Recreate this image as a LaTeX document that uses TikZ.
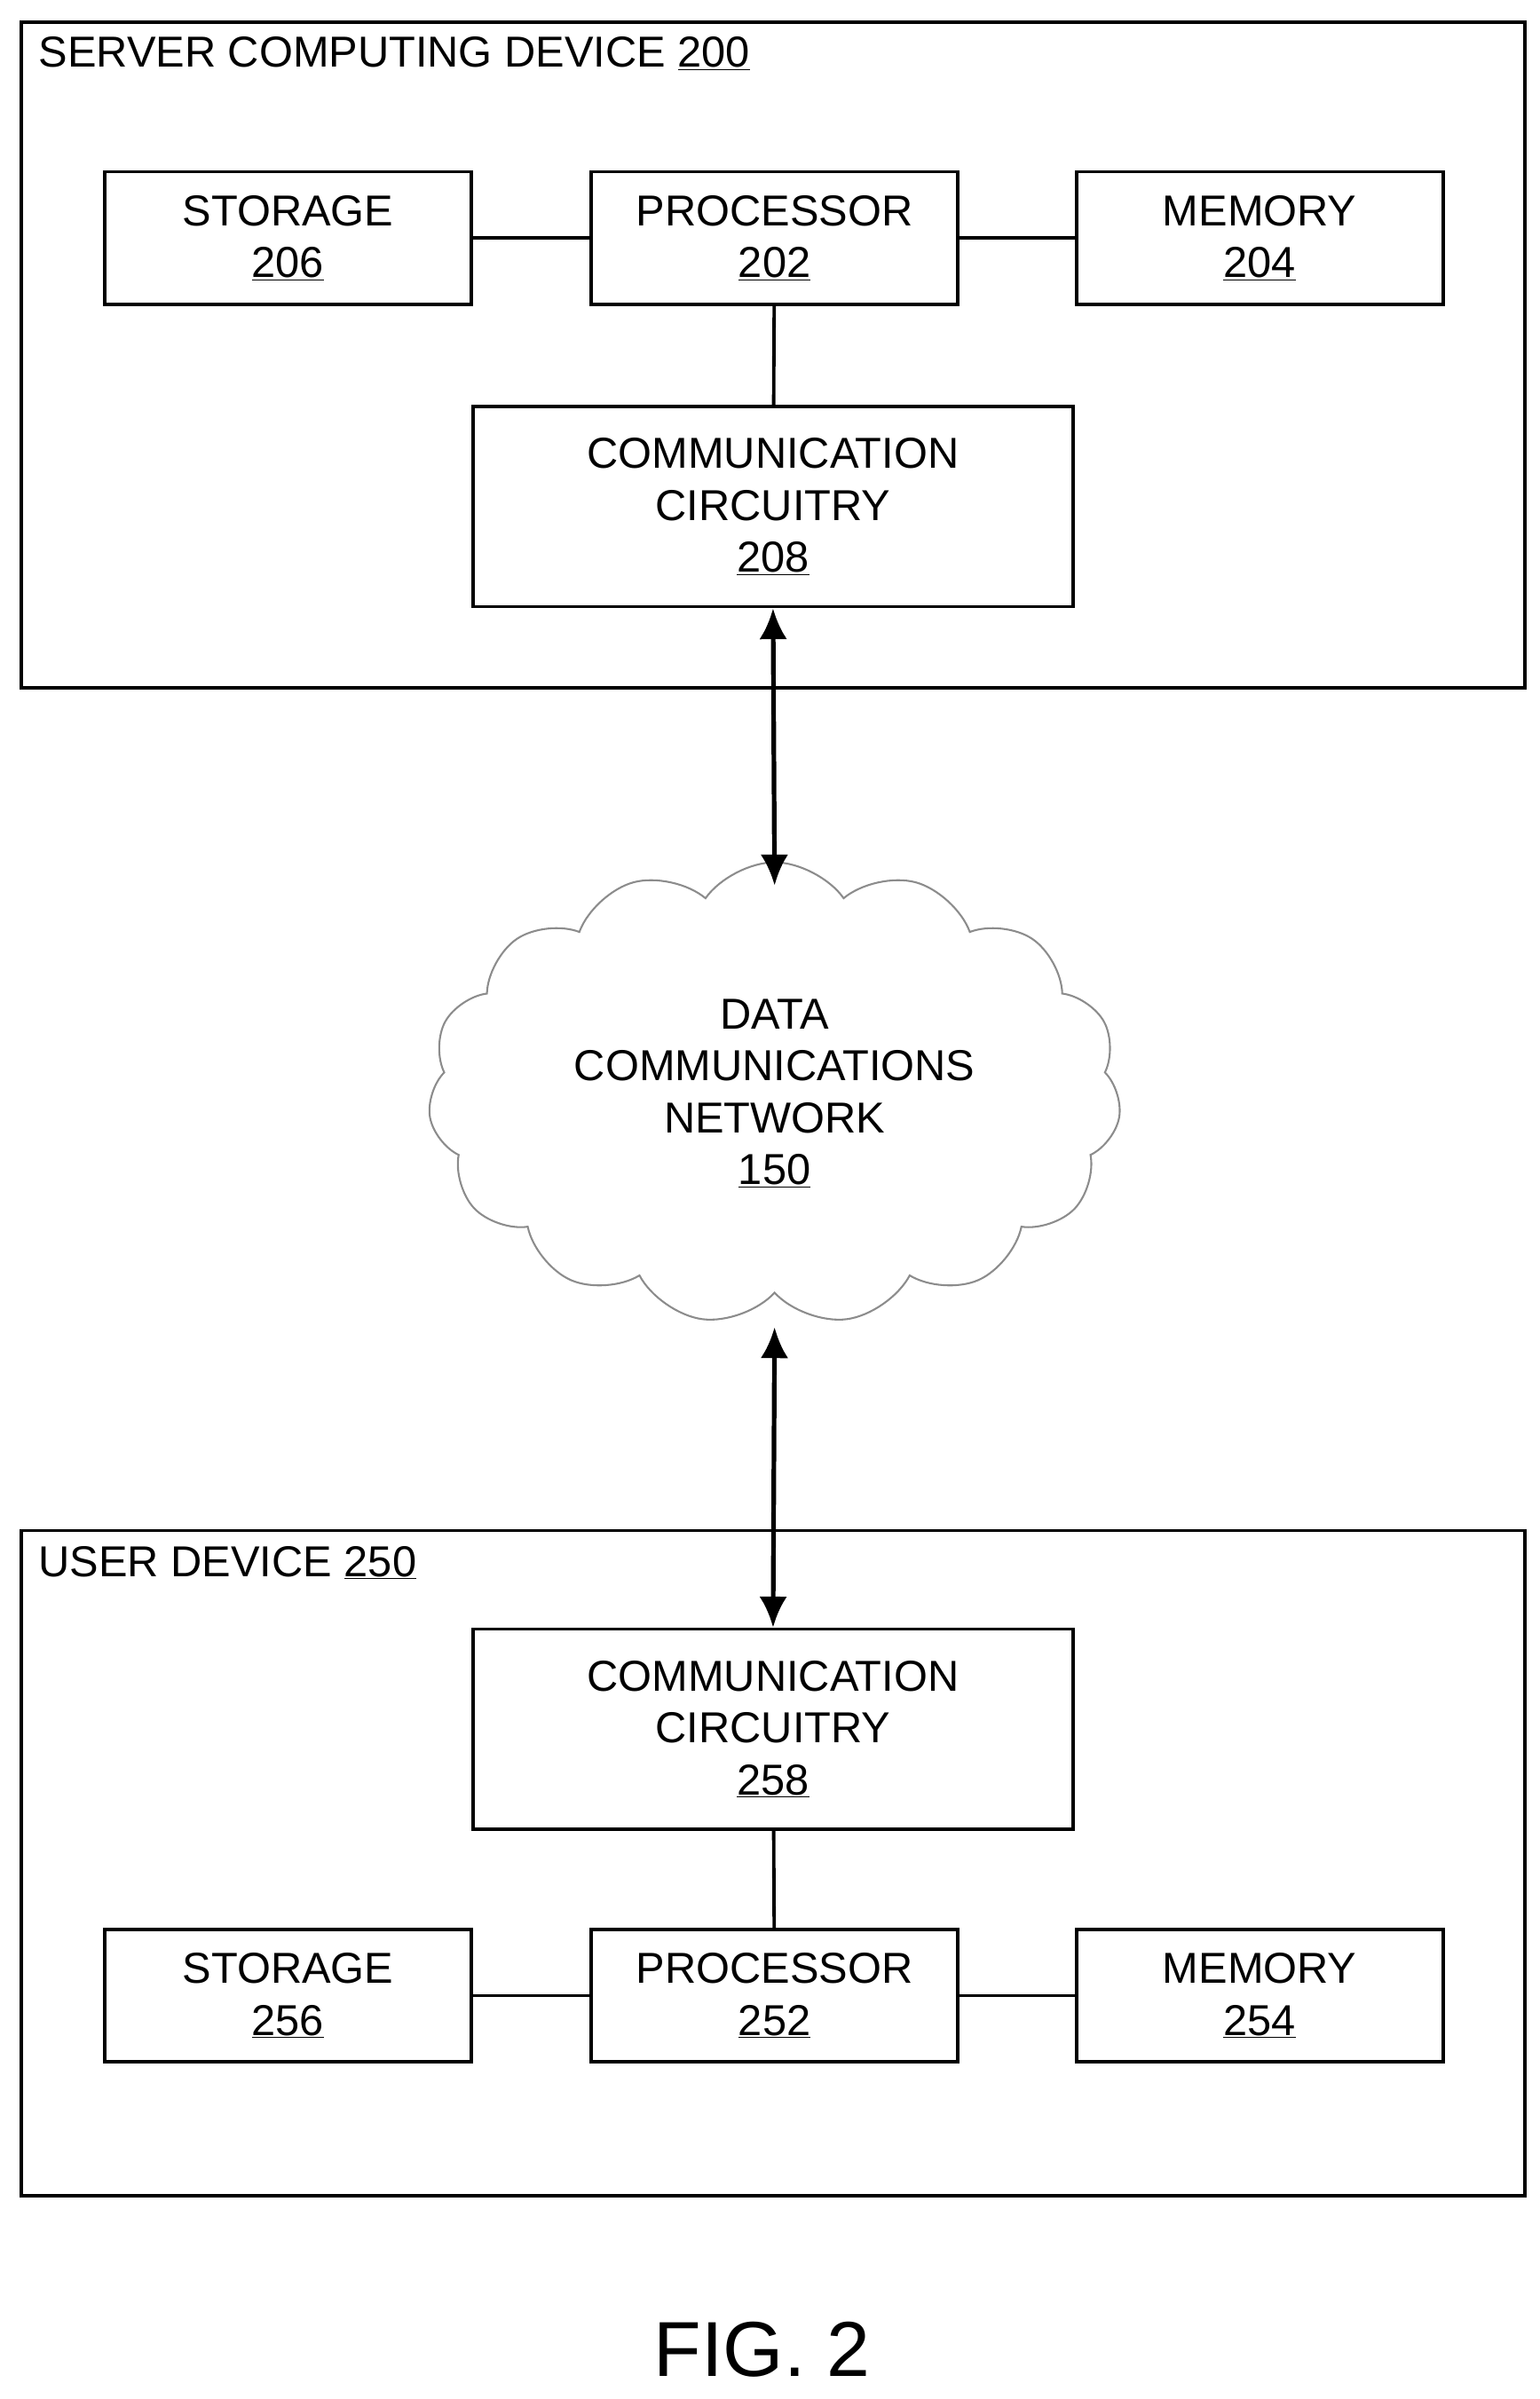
\documentclass[tikz,border=0pt]{standalone}
\usepackage{fontspec}
\setmainfont{Liberation Sans}
\usetikzlibrary{shapes.symbols,arrows.meta}
\begin{document}
\begin{tikzpicture}[x=0.5mm,y=-0.5mm,
  txt/.style={font=\fontsize{40}{48}\selectfont, align=center},
  box/.style={draw, line width=1.1mm, txt, inner sep=0},
  ln/.style={line width=1.1mm},
  arr/.style={line width=1.5mm, {Latex[length=10mm,width=9mm]}-{Latex[length=10mm,width=9mm]}}]
\useasboundingbox (0,0) rectangle (1000,1558);
% server
\node[draw, line width=1.1mm, minimum width=488mm, minimum height=216mm, inner sep=0] (srv) at (502,230.5) {};
\node[txt, anchor=north west, inner sep=0] (srvl) at (25,24) {SERVER COMPUTING DEVICE \underline{200}};
\node[box, minimum width=119mm, minimum height=43mm] (s206) at (187,154.5) {STORAGE\\\underline{206}};
\node[box, minimum width=119mm, minimum height=43mm] (p202) at (503,154.5) {PROCESSOR\\\underline{202}};
\node[box, minimum width=119mm, minimum height=43mm] (m204) at (818,154.5) {MEMORY\\\underline{204}};
\node[box, minimum width=195mm, minimum height=65mm] (c208) at (502,329) {COMMUNICATION\\CIRCUITRY\\\underline{208}};
\draw[ln] (s206) -- (p202); \draw[ln] (p202) -- (m204); \draw[ln] (p202) -- (c208);
% cloud
\node[cloud, cloud puffs=15, cloud puff arc=110, aspect=1.5, draw=black!45, line width=0.6mm, fill=white, minimum width=225mm, minimum height=150mm, txt] (net) at (503,710) {DATA\\COMMUNICATIONS\\NETWORK\\\underline{150}};
\coordinate (ntop) at (503,575);
\coordinate (nbot) at (503,862);
\draw[arr] (c208.south) -- (ntop);
% user
\node[draw, line width=1.1mm, minimum width=488mm, minimum height=216mm, inner sep=0] (usr) at (502,1210) {};
\node[txt, anchor=north west, inner sep=0] (usrl) at (25,1004) {USER DEVICE \underline{250}};
\node[box, minimum width=195mm, minimum height=65mm] (c258) at (502,1123) {COMMUNICATION\\CIRCUITRY\\\underline{258}};
\node[box, minimum width=119mm, minimum height=43mm] (s256) at (187,1296) {STORAGE\\\underline{256}};
\node[box, minimum width=119mm, minimum height=43mm] (p252) at (503,1296) {PROCESSOR\\\underline{252}};
\node[box, minimum width=119mm, minimum height=43mm] (m254) at (818,1296) {MEMORY\\\underline{254}};
\draw[ln] (s256) -- (p252); \draw[ln] (p252) -- (m254); \draw[ln] (p252) -- (c258);
\draw[arr] (nbot) -- (c258.north);
\node[font=\fontsize{72}{80}\selectfont] (fig) at (495,1526) {FIG. 2};
\end{tikzpicture}
\end{document}
